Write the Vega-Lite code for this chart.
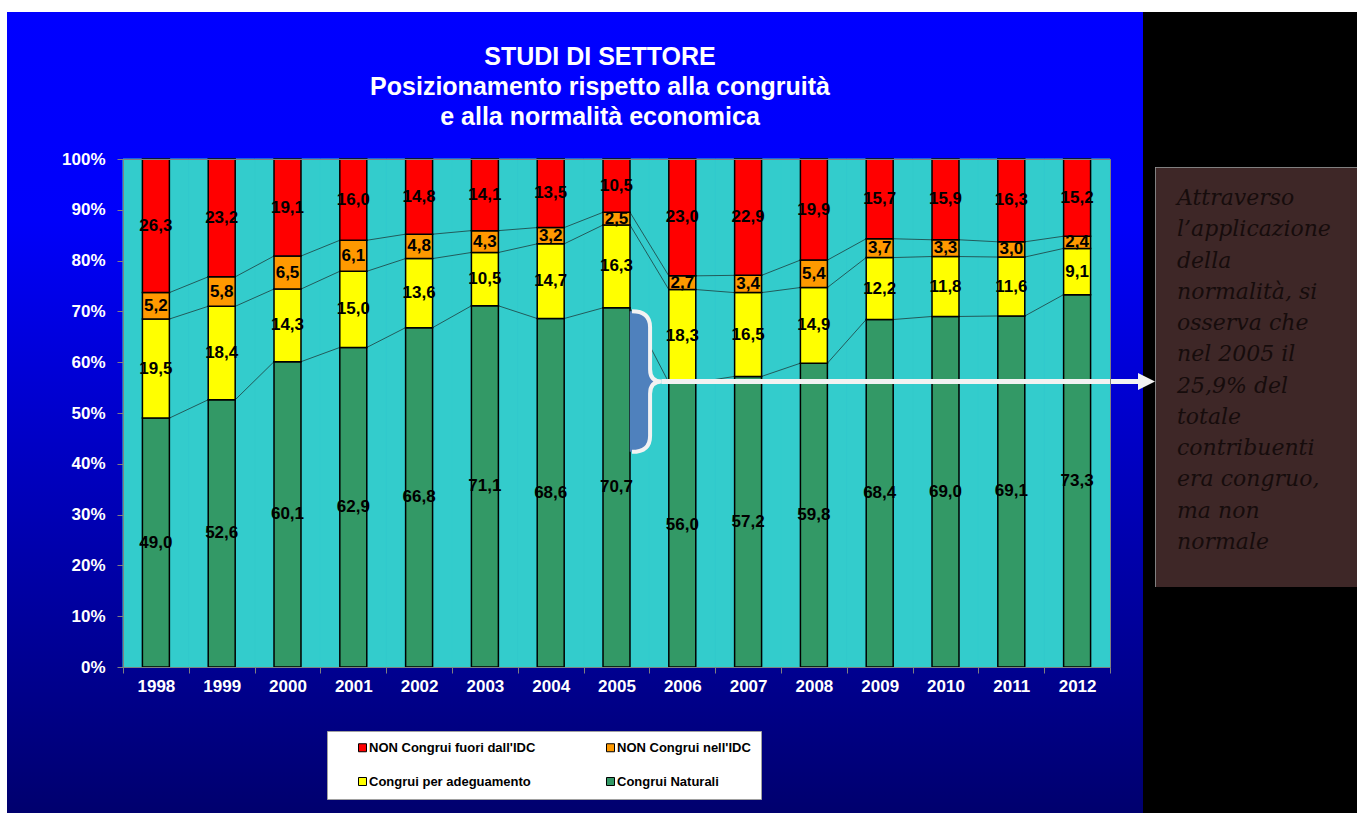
{
  "$schema": "https://vega.github.io/schema/vega-lite/v6.json",
  "background": "white",
  "padding": {"left": 7, "top": 12, "right": 0, "bottom": 0},
  "spacing": 0,
  "bounds": "flush",
  "config": {
    "locale": {"number": {"decimal": ",", "thousands": ".", "grouping": [3], "currency": ["€", ""]}},
    "font": "Liberation Sans",
    "concat": {"spacing": 0}
  },
  "datasets": {
    "main": [
      {"year": "1998", "series": "Congrui Naturali", "value": 49.0},
      {"year": "1998", "series": "Congrui per adeguamento", "value": 19.5},
      {"year": "1998", "series": "NON Congrui nell'IDC", "value": 5.2},
      {"year": "1998", "series": "NON Congrui fuori dall'IDC", "value": 26.3},
      {"year": "1999", "series": "Congrui Naturali", "value": 52.6},
      {"year": "1999", "series": "Congrui per adeguamento", "value": 18.4},
      {"year": "1999", "series": "NON Congrui nell'IDC", "value": 5.8},
      {"year": "1999", "series": "NON Congrui fuori dall'IDC", "value": 23.2},
      {"year": "2000", "series": "Congrui Naturali", "value": 60.1},
      {"year": "2000", "series": "Congrui per adeguamento", "value": 14.3},
      {"year": "2000", "series": "NON Congrui nell'IDC", "value": 6.5},
      {"year": "2000", "series": "NON Congrui fuori dall'IDC", "value": 19.1},
      {"year": "2001", "series": "Congrui Naturali", "value": 62.9},
      {"year": "2001", "series": "Congrui per adeguamento", "value": 15.0},
      {"year": "2001", "series": "NON Congrui nell'IDC", "value": 6.1},
      {"year": "2001", "series": "NON Congrui fuori dall'IDC", "value": 16.0},
      {"year": "2002", "series": "Congrui Naturali", "value": 66.8},
      {"year": "2002", "series": "Congrui per adeguamento", "value": 13.6},
      {"year": "2002", "series": "NON Congrui nell'IDC", "value": 4.8},
      {"year": "2002", "series": "NON Congrui fuori dall'IDC", "value": 14.8},
      {"year": "2003", "series": "Congrui Naturali", "value": 71.1},
      {"year": "2003", "series": "Congrui per adeguamento", "value": 10.5},
      {"year": "2003", "series": "NON Congrui nell'IDC", "value": 4.3},
      {"year": "2003", "series": "NON Congrui fuori dall'IDC", "value": 14.1},
      {"year": "2004", "series": "Congrui Naturali", "value": 68.6},
      {"year": "2004", "series": "Congrui per adeguamento", "value": 14.7},
      {"year": "2004", "series": "NON Congrui nell'IDC", "value": 3.2},
      {"year": "2004", "series": "NON Congrui fuori dall'IDC", "value": 13.5},
      {"year": "2005", "series": "Congrui Naturali", "value": 70.7},
      {"year": "2005", "series": "Congrui per adeguamento", "value": 16.3},
      {"year": "2005", "series": "NON Congrui nell'IDC", "value": 2.5},
      {"year": "2005", "series": "NON Congrui fuori dall'IDC", "value": 10.5},
      {"year": "2006", "series": "Congrui Naturali", "value": 56.0},
      {"year": "2006", "series": "Congrui per adeguamento", "value": 18.3},
      {"year": "2006", "series": "NON Congrui nell'IDC", "value": 2.7},
      {"year": "2006", "series": "NON Congrui fuori dall'IDC", "value": 23.0},
      {"year": "2007", "series": "Congrui Naturali", "value": 57.2},
      {"year": "2007", "series": "Congrui per adeguamento", "value": 16.5},
      {"year": "2007", "series": "NON Congrui nell'IDC", "value": 3.4},
      {"year": "2007", "series": "NON Congrui fuori dall'IDC", "value": 22.9},
      {"year": "2008", "series": "Congrui Naturali", "value": 59.8},
      {"year": "2008", "series": "Congrui per adeguamento", "value": 14.9},
      {"year": "2008", "series": "NON Congrui nell'IDC", "value": 5.4},
      {"year": "2008", "series": "NON Congrui fuori dall'IDC", "value": 19.9},
      {"year": "2009", "series": "Congrui Naturali", "value": 68.4},
      {"year": "2009", "series": "Congrui per adeguamento", "value": 12.2},
      {"year": "2009", "series": "NON Congrui nell'IDC", "value": 3.7},
      {"year": "2009", "series": "NON Congrui fuori dall'IDC", "value": 15.7},
      {"year": "2010", "series": "Congrui Naturali", "value": 69.0},
      {"year": "2010", "series": "Congrui per adeguamento", "value": 11.8},
      {"year": "2010", "series": "NON Congrui nell'IDC", "value": 3.3},
      {"year": "2010", "series": "NON Congrui fuori dall'IDC", "value": 15.9},
      {"year": "2011", "series": "Congrui Naturali", "value": 69.1},
      {"year": "2011", "series": "Congrui per adeguamento", "value": 11.6},
      {"year": "2011", "series": "NON Congrui nell'IDC", "value": 3.0},
      {"year": "2011", "series": "NON Congrui fuori dall'IDC", "value": 16.3},
      {"year": "2012", "series": "Congrui Naturali", "value": 73.3},
      {"year": "2012", "series": "Congrui per adeguamento", "value": 9.1},
      {"year": "2012", "series": "NON Congrui nell'IDC", "value": 2.4},
      {"year": "2012", "series": "NON Congrui fuori dall'IDC", "value": 15.2}
    ],
    "anno": [{"year": "2005", "to": "2012", "value": 56.2}],
    "note": [
      {"line": 1, "text": "Attraverso"},
      {"line": 2, "text": "l’applicazione"},
      {"line": 3, "text": "della"},
      {"line": 4, "text": "normalità, si"},
      {"line": 5, "text": "osserva che"},
      {"line": 6, "text": "nel 2005 il"},
      {"line": 7, "text": "25,9% del"},
      {"line": 8, "text": "totale"},
      {"line": 9, "text": "contribuenti"},
      {"line": 10, "text": "era congruo,"},
      {"line": 11, "text": "ma non"},
      {"line": 12, "text": "normale"}
    ]
  },
  "resolve": {"scale": {"x": "independent", "y": "independent"}},
  "hconcat": [
    {
      "width": 1136,
      "height": 801,
      "view": {
        "fill": {"gradient": "linear", "x1": 0, "y1": 0, "x2": 0, "y2": 1,
          "stops": [{"offset": 0, "color": "#0000FF"}, {"offset": 0.26, "color": "#0000FA"}, {"offset": 1, "color": "#00006E"}]},
        "stroke": null
      },
      "title": {
        "text": ["STUDI DI SETTORE", "Posizionamento rispetto alla congruità", "e alla normalità economica"],
        "color": "white", "font": "Liberation Sans", "fontSize": 25, "fontWeight": "bold",
        "lineHeight": 30, "anchor": "middle", "dx": 25, "offset": -118, "baseline": "top"
      },
      "data": {"name": "main"},
      "transform": [
        {"calculate": "datum.series == 'Congrui Naturali' ? 0 : datum.series == 'Congrui per adeguamento' ? 1 : indexof(datum.series, 'nell') >= 0 ? 2 : 3", "as": "k"},
        {"stack": "value", "groupby": ["year"], "sort": [{"field": "k", "order": "ascending"}], "as": ["v0", "v1"]},
        {"calculate": "(datum.v0 + datum.v1) / 2", "as": "mid"}
      ],
      "resolve": {"axis": {"x": "independent", "y": "independent"}},
      "layer": [
        {
          "transform": [{"filter": "datum.k == 0"}],
          "mark": {"type": "rect", "color": "#33CCCC", "stroke": "#33CCCC", "strokeWidth": 1},
          "encoding": {
            "x": {"field": "year", "type": "ordinal",
              "scale": {"type": "band", "range": [116, 1103], "paddingInner": 0, "paddingOuter": 0},
              "axis": {"orient": "top", "offset": -147, "domainColor": "#808080", "domainWidth": 1, "ticks": false, "labels": false, "title": null, "zindex": 1}},
            "y": {"datum": 0, "type": "quantitative",
              "scale": {"domain": [0, 100], "range": [655, 147], "nice": false, "zero": true},
              "axis": {"orient": "right", "offset": -33, "domainColor": "#808080", "domainWidth": 1, "ticks": false, "labels": false, "grid": false, "title": null, "zindex": 1}},
            "y2": {"datum": 100}
          }
        },
        {
          "transform": [
            {"window": [{"op": "lead", "field": "v1", "as": "nv1"}, {"op": "lead", "field": "year", "as": "nyear"}],
              "groupby": ["series"], "sort": [{"field": "year", "order": "ascending"}]},
            {"filter": "datum.nyear != null && datum.k < 3"}
          ],
          "mark": {"type": "rule", "color": "#1E3C3C", "strokeWidth": 0.8, "xOffset": 13.5, "x2Offset": -13.5},
          "encoding": {
            "x": {"field": "year", "type": "ordinal", "axis": null},
            "x2": {"field": "nyear"},
            "y": {"field": "v1", "type": "quantitative", "axis": null},
            "y2": {"field": "nv1"}
          }
        },
        {
          "mark": {"type": "bar", "width": {"band": 0.41}, "stroke": "black", "strokeWidth": 1.5},
          "encoding": {
            "x": {"field": "year", "type": "ordinal",
              "axis": {"orient": "bottom", "offset": -146, "title": null, "labelAngle": 0, "labelColor": "white",
                "labelFont": "Liberation Sans", "labelFontSize": 17, "labelFontWeight": "bold", "labelPadding": 5,
                "domainColor": "#808080", "tickColor": "#808080", "tickSize": 6, "tickBand": "extent", "zindex": 1}},
            "y": {"field": "v0", "type": "quantitative",
              "axis": {"orient": "left", "offset": -116, "title": null, "values": [0, 10, 20, 30, 40, 50, 60, 70, 80, 90, 100],
                "labelExpr": "datum.value + '%'", "labelColor": "white", "labelFont": "Liberation Sans", "labelFontSize": 17,
                "labelFontWeight": "bold", "labelPadding": 12, "tickSize": 6, "tickColor": "#808080", "domainColor": "#808080",
                "grid": false, "zindex": 1}},
            "y2": {"field": "v1"},
            "color": {"field": "series", "type": "nominal",
              "scale": {"domain": ["NON Congrui fuori dall'IDC", "NON Congrui nell'IDC", "Congrui per adeguamento", "Congrui Naturali"],
                "range": ["#FF0000", "#FF9900", "#FFFF00", "#339966"]},
              "legend": {"orient": "none", "legendX": 320, "legendY": 719, "direction": "horizontal", "columns": 2, "title": null,
                "fillColor": "white", "strokeColor": "#A0A0A0", "padding": 10, "symbolType": "square", "symbolSize": 64,
                "symbolStrokeColor": "black", "symbolStrokeWidth": 1, "symbolOffset": 19, "labelFont": "Liberation Sans",
                "labelFontSize": 13, "labelFontWeight": "bold", "labelColor": "black", "labelOffset": 0,
                "columnPadding": 49, "rowPadding": 20, "labelLimit": 400}}
          }
        },
        {
          "mark": {"type": "text", "font": "Liberation Sans", "fontSize": 17, "fontWeight": "bold", "color": "black", "baseline": "middle"},
          "encoding": {
            "x": {"field": "year", "type": "ordinal", "axis": null},
            "y": {"field": "mid", "type": "quantitative", "axis": null},
            "text": {"field": "value", "type": "quantitative", "format": ".1f"}
          }
        },
        {
          "data": {"name": "anno"},
          "mark": {"type": "point", "shape": "M-0.21,-0.97L-0.18,-0.97Q0.07,-0.97 0.07,-0.75L0.07,-0.17Q0.07,0 0.23,0Q0.07,0 0.07,0.17L0.07,0.75Q0.07,0.97 -0.18,0.97L-0.21,0.97Z",
            "filled": true, "fill": "#4F81BD", "strokeWidth": 0, "opacity": 1, "size": 21025, "xOffset": 28.5},
          "encoding": {
            "x": {"field": "year", "type": "ordinal", "axis": null},
            "y": {"field": "value", "type": "quantitative", "axis": null}
          }
        },
        {
          "data": {"name": "anno"},
          "mark": {"type": "point", "shape": "M-0.18,-0.97Q0.07,-0.97 0.07,-0.75L0.07,-0.17Q0.07,0 0.23,0Q0.07,0 0.07,0.17L0.07,0.75Q0.07,0.97 -0.18,0.97",
            "filled": false, "stroke": "#F2F2F2", "strokeWidth": 4, "opacity": 1, "size": 21025, "xOffset": 28.5},
          "encoding": {
            "x": {"field": "year", "type": "ordinal", "axis": null},
            "y": {"field": "value", "type": "quantitative", "axis": null}
          }
        },
        {
          "data": {"name": "anno"},
          "mark": {"type": "rule", "color": "#F2F2F2", "strokeWidth": 5, "xOffset": 45, "x2Offset": 64},
          "encoding": {
            "x": {"field": "year", "type": "ordinal", "axis": null},
            "x2": {"field": "to"},
            "y": {"field": "value", "type": "quantitative", "axis": null}
          }
        }
      ]
    },
    {
      "width": 12,
      "height": 801,
      "view": {"fill": "black", "stroke": null},
      "data": {"name": "anno"},
      "mark": {"type": "point", "shape": "M-1,-1L1,0L-1,1Z", "filled": true, "color": "#F2F2F2", "opacity": 1, "size": 289, "xOffset": -2.5},
      "encoding": {
        "y": {"field": "value", "type": "quantitative", "scale": {"domain": [0, 100], "range": [655, 147], "nice": false}, "axis": null}
      }
    },
    {
      "spacing": 0,
      "bounds": "flush",
      "vconcat": [
        {
          "width": 202, "height": 155,
          "view": {"fill": "black", "stroke": null},
          "data": {"values": [{}]},
          "mark": {"type": "text", "text": ""},
          "encoding": {}
        },
        {
          "width": 202, "height": 420,
          "view": {"fill": "#3E2727", "stroke": "#808080", "strokeWidth": 1},
          "data": {"name": "note"},
          "mark": {"type": "text", "align": "left", "baseline": "middle", "dx": -79, "font": "DejaVu Serif", "fontStyle": "italic", "fontSize": 22, "color": "#160C0C"},
          "encoding": {
            "y": {"field": "line", "type": "ordinal", "scale": {"type": "point", "range": [31, 375], "padding": 0}, "axis": null},
            "text": {"field": "text"}
          }
        },
        {
          "width": 202, "height": 226,
          "view": {"fill": "black", "stroke": null},
          "data": {"values": [{}]},
          "mark": {"type": "text", "text": ""},
          "encoding": {}
        }
      ]
    }
  ]
}
